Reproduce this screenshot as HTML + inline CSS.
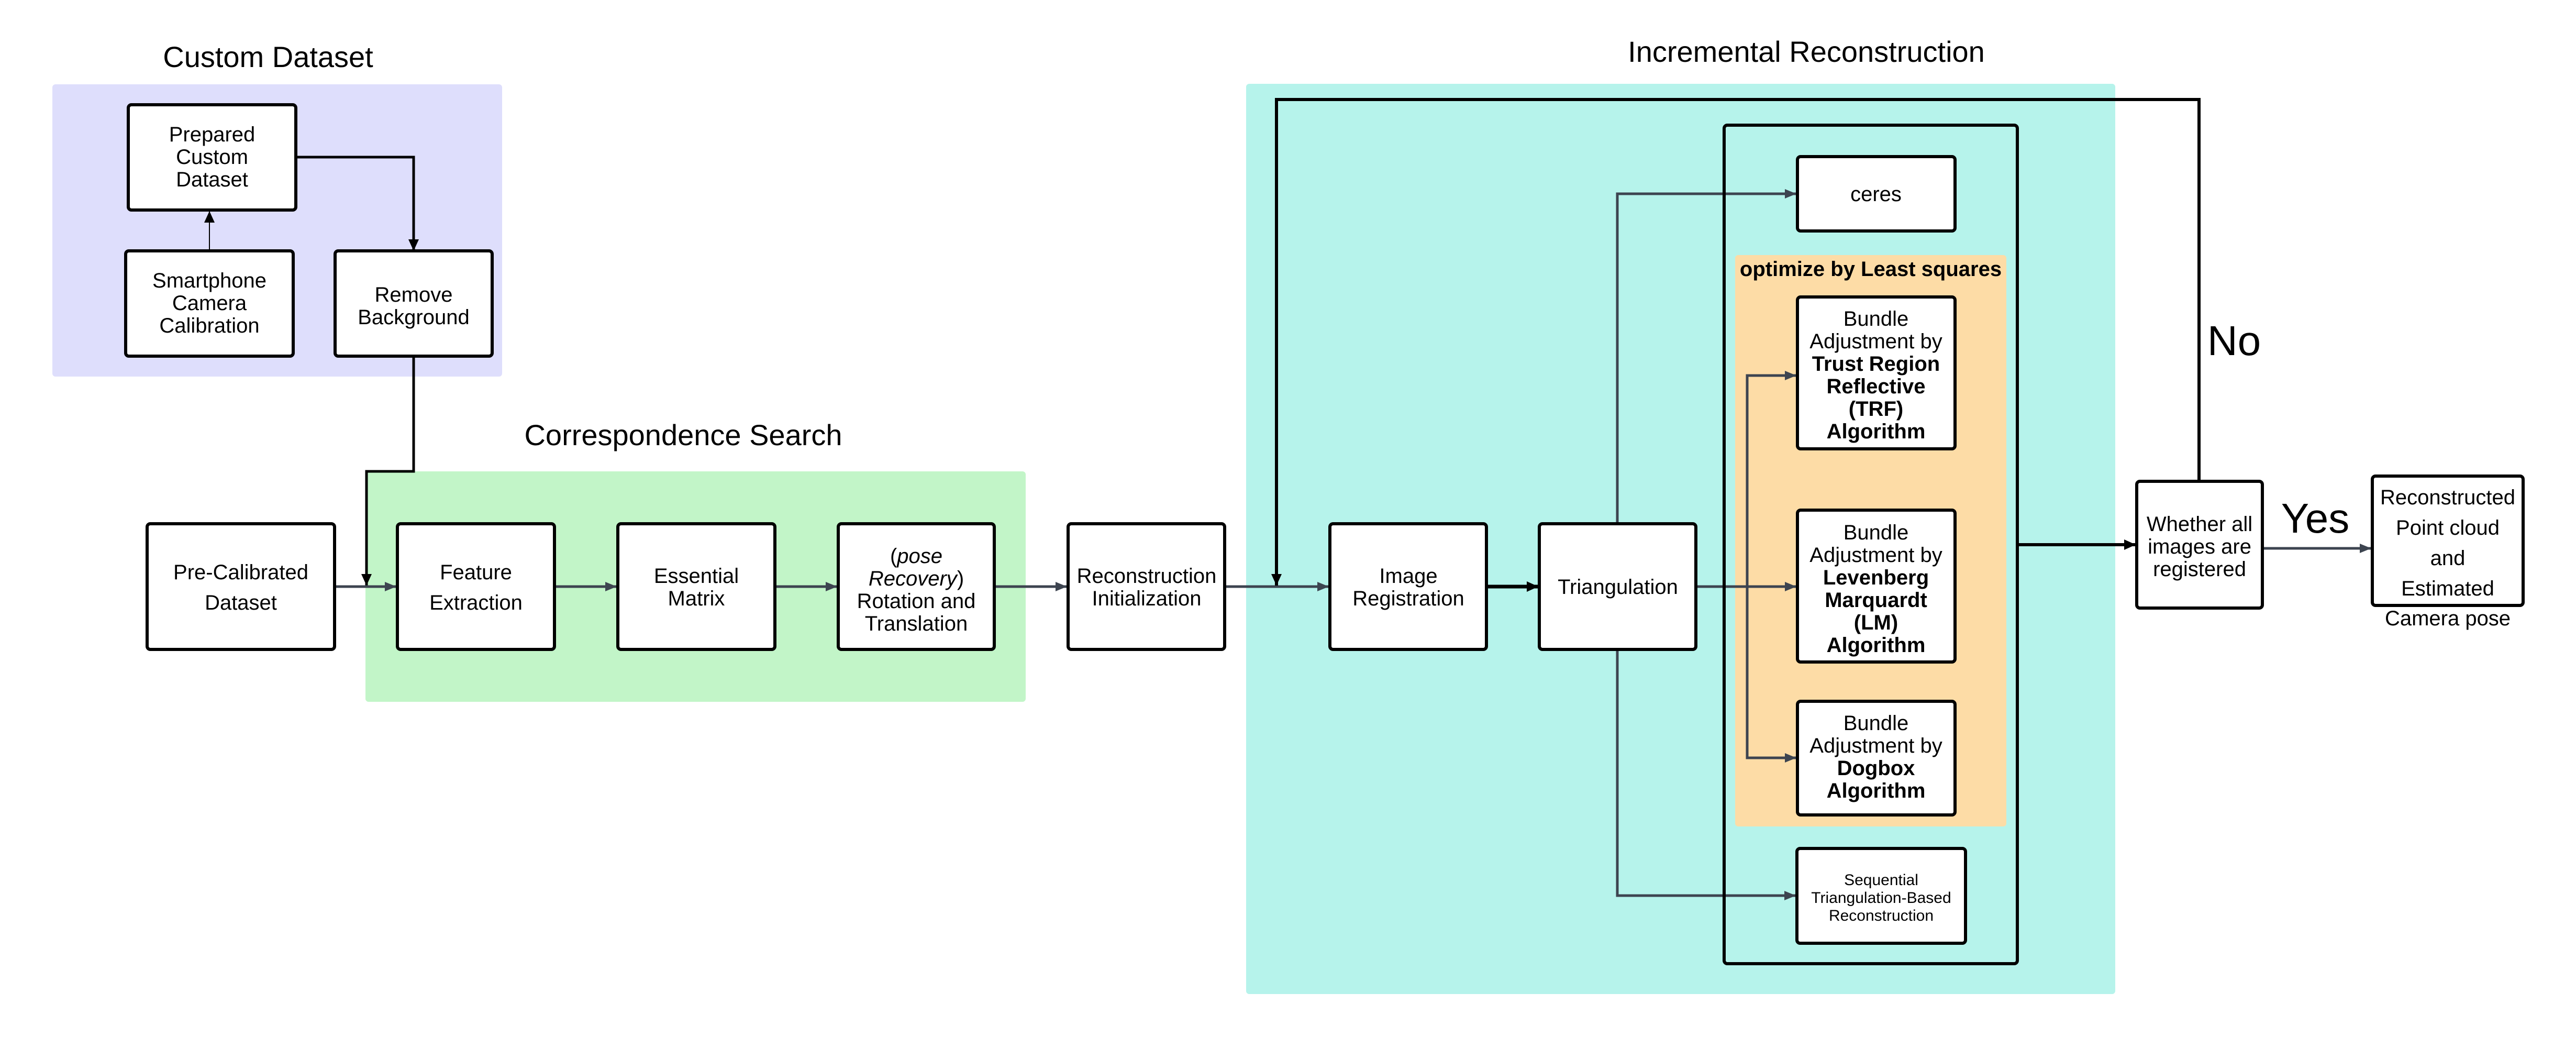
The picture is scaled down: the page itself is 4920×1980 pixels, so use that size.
<!DOCTYPE html>
<html><head><meta charset="utf-8"><style>
html,body{margin:0;padding:0;background:#fff;}
svg{display:block;}
text{font-family:"Liberation Sans",sans-serif;fill:#000;}
</style></head><body>
<svg width="4920" height="1980" viewBox="0 0 4920 1980" xmlns="http://www.w3.org/2000/svg">
<defs>
<marker id="agS" viewBox="0 0 10 10" refX="10" refY="5" markerWidth="22" markerHeight="18" orient="auto" markerUnits="userSpaceOnUse" preserveAspectRatio="none"><path d="M0,0 L10,5 L0,10 z" fill="#3d4450"/></marker>
<marker id="ab" viewBox="0 0 10 10" refX="10" refY="5" markerWidth="22" markerHeight="20" orient="auto" markerUnits="userSpaceOnUse" preserveAspectRatio="none"><path d="M0,0 L10,5 L0,10 z" fill="#000"/></marker>
</defs>

<rect x="100" y="161" width="859" height="558" rx="6" fill="#dedefc"/>
<rect x="698" y="900" width="1261" height="440" rx="6" fill="#c2f5c8"/>
<rect x="2380" y="160" width="1660" height="1738" rx="6" fill="#b6f3eb"/>
<rect x="3314" y="487" width="518" height="1091" rx="6" fill="#fddca6"/>

<text x="512" y="128" font-size="56" text-anchor="middle">Custom Dataset</text>
<text x="1305" y="850" font-size="56" text-anchor="middle">Correspondence Search</text>
<text x="3450" y="118" font-size="56" text-anchor="middle">Incremental Reconstruction</text>

<path d="M565,300 H790 V479" fill="none" stroke="#000" stroke-width="5" marker-end="url(#ab)"/>
<path d="M400,479 V403" fill="none" stroke="#000" stroke-width="2" marker-end="url(#ab)"/>
<path d="M790,680 V900 H700 V1118" fill="none" stroke="#000" stroke-width="5" marker-end="url(#ab)"/>

<g stroke="#3d4450" stroke-width="5" fill="none">
<path d="M639,1120 H757" marker-end="url(#agS)"/>
<path d="M1059,1120 H1178" marker-end="url(#agS)"/>
<path d="M1480,1120 H1599" marker-end="url(#agS)"/>
<path d="M1899,1120 H2038" marker-end="url(#agS)"/>
<path d="M2339,1120 H2538" marker-end="url(#agS)"/>
<path d="M3089,1000 V370 H3431" marker-end="url(#agS)"/>
<path d="M3089,1240 V1710 H3430" marker-end="url(#agS)"/>
<path d="M3239,1120 H3431" marker-end="url(#agS)"/>
<path d="M3337,1120 V717 H3431" marker-end="url(#agS)"/>
<path d="M3337,1120 V1447 H3431" marker-end="url(#agS)"/>
<path d="M4321,1047 H4529" marker-end="url(#agS)"/>
</g>
<path d="M2839,1120 H2938" stroke="#000" stroke-width="7" fill="none" marker-end="url(#ab)"/>
<path d="M4200,919 V190 H2438 V1118" stroke="#000" stroke-width="6" fill="none" marker-end="url(#ab)"/>
<path d="M3853,1040 H4079" stroke="#000" stroke-width="6" fill="none" marker-end="url(#ab)"/>

<rect x="3293" y="239" width="560" height="1601" rx="6" fill="none" stroke="#000" stroke-width="6"/>

<g fill="#fff" stroke="#000" stroke-width="6">
<rect x="245" y="200" width="320" height="201" rx="6"/>
<rect x="240" y="479" width="320" height="201" rx="6"/>
<rect x="640" y="479" width="300" height="201" rx="6"/>
<rect x="281" y="1000" width="358" height="240" rx="6"/>
<rect x="759" y="1000" width="300" height="240" rx="6"/>
<rect x="1180" y="1000" width="300" height="240" rx="6"/>
<rect x="1601" y="1000" width="298" height="240" rx="6"/>
<rect x="2040" y="1000" width="299" height="240" rx="6"/>
<rect x="2540" y="1000" width="299" height="240" rx="6"/>
<rect x="2940" y="1000" width="299" height="240" rx="6"/>
<rect x="3433" y="299" width="301" height="142" rx="6"/>
<rect x="3433" y="567" width="301" height="290" rx="6"/>
<rect x="3433" y="974" width="301" height="290" rx="6"/>
<rect x="3433" y="1339" width="301" height="217" rx="6"/>
<rect x="3432" y="1620" width="322" height="181" rx="6"/>
<rect x="4081" y="919" width="240" height="242" rx="6"/>
<rect x="4531" y="909" width="288" height="247" rx="6"/>
</g>

<g font-size="40" text-anchor="middle">
<text x="405" y="270">Prepared</text><text x="405" y="313">Custom</text><text x="405" y="356">Dataset</text>
<text x="400" y="549">Smartphone</text><text x="400" y="592">Camera</text><text x="400" y="635">Calibration</text>
<text x="790" y="576">Remove</text><text x="790" y="619">Background</text>
<text x="460" y="1106">Pre-Calibrated</text><text x="460" y="1164">Dataset</text>
<text x="909" y="1106">Feature</text><text x="909" y="1164">Extraction</text>
<text x="1330" y="1113">Essential</text><text x="1330" y="1156">Matrix</text>
<text x="1750" y="1075">(<tspan font-style="italic">pose</tspan></text>
<text x="1750" y="1118"><tspan font-style="italic">Recovery</tspan>)</text>
<text x="1750" y="1161">Rotation and</text><text x="1750" y="1204">Translation</text>
<text x="2190" y="1113">Reconstruction</text><text x="2190" y="1156">Initialization</text>
<text x="2690" y="1113">Image</text><text x="2690" y="1156">Registration</text>
<text x="3090" y="1134">Triangulation</text>
<text x="3583" y="384">ceres</text>
<text x="3583" y="622">Bundle</text><text x="3583" y="665">Adjustment by</text>
<text x="3583" y="708" font-weight="bold">Trust Region</text>
<text x="3583" y="751" font-weight="bold">Reflective</text>
<text x="3583" y="794" font-weight="bold">(TRF)</text>
<text x="3583" y="837" font-weight="bold">Algorithm</text>
<text x="3583" y="1030">Bundle</text><text x="3583" y="1073">Adjustment by</text>
<text x="3583" y="1116" font-weight="bold">Levenberg</text>
<text x="3583" y="1159" font-weight="bold">Marquardt</text>
<text x="3583" y="1202" font-weight="bold">(LM)</text>
<text x="3583" y="1245" font-weight="bold">Algorithm</text>
<text x="3583" y="1394">Bundle</text><text x="3583" y="1437">Adjustment by</text>
<text x="3583" y="1480" font-weight="bold">Dogbox</text>
<text x="3583" y="1523" font-weight="bold">Algorithm</text>
<text x="4201" y="1014">Whether all</text><text x="4201" y="1057">images are</text><text x="4201" y="1100">registered</text>
<text x="4675" y="963">Reconstructed</text><text x="4675" y="1021">Point cloud</text><text x="4675" y="1079">and</text><text x="4675" y="1137">Estimated</text>
<text x="4675" y="1194">Camera pose</text>
</g>
<g font-size="30" text-anchor="middle">
<text x="3593" y="1690">Sequential</text><text x="3593" y="1724">Triangulation-Based</text><text x="3593" y="1758">Reconstruction</text>
</g>
<text x="3573" y="527" font-size="40" font-weight="bold" text-anchor="middle">optimize by Least squares</text>
<text x="4267" y="678" font-size="80" text-anchor="middle">No</text>
<text x="4422" y="1017" font-size="80" text-anchor="middle">Yes</text>
</svg>
</body></html>
